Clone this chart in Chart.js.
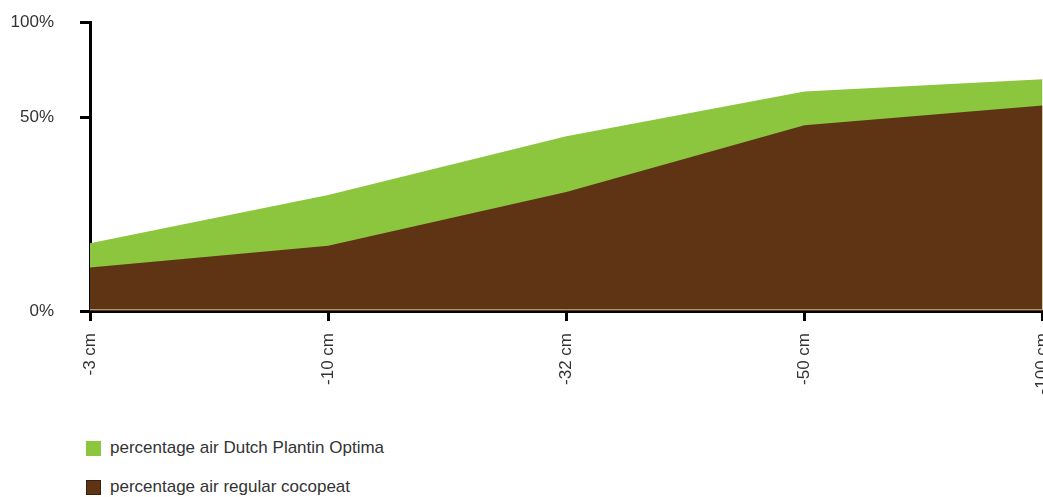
<!DOCTYPE html>
<html>
<head>
<meta charset="utf-8">
<script src="https://cdn.jsdelivr.net/npm/chart.js@4.4.1/dist/chart.umd.min.js"></script>
<style>
  html, body { margin: 0; padding: 0; background: #fff; overflow: hidden; }
  #wrap { width: 1043px; height: 497px; overflow: hidden; position: relative; }
  #chartBox { width: 1075px; height: 434px; position: relative; margin-top: -14px; }
  #legend { position: absolute; left: 86px; top: 437px; font-family: "Liberation Sans", Arial, sans-serif; font-size: 17px; color: #333; }
  .legend-row { display: flex; align-items: center; height: 22px; margin-bottom: 17px; }
  .legend-box { width: 15px; height: 15px; margin-right: 9px; box-sizing: border-box; }
</style>
</head>
<body>
<div id="wrap">
  <div id="chartBox"><canvas id="airChart"></canvas></div>
  <div id="legend"></div>
</div>
<script>
const depthLabels = ["-3 cm", "-10 cm", "-32 cm", "-50 cm", "-100 cm"];
const dutchPlantinAir = [17.5, 29.9, 45.1, 56.6, 59.8];
const regularCocopeatAir = [11.2, 16.8, 30.7, 47.9, 53.0];

// the reference axis puts "100%" well below a true 100 mark; keep that look
const axisTop = 74.5;
const yTicks = [0, 50, axisTop];

const seriesInfo = [
  { label: "percentage air Dutch Plantin Optima", data: dutchPlantinAir, color: "#8cc63f", edge: "#8cc63f", order: 2 },
  { label: "percentage air regular cocopeat", data: regularCocopeatAir, color: "#5e3415", edge: "#3b1f0a", order: 1 }
];

const fontFamily = '"Liberation Sans", Arial, sans-serif';

function renderLegend() {
  const legend = document.querySelector("#legend");
  legend.innerHTML = seriesInfo.map(s => `
    <div class="legend-row">
      <div class="legend-box" style="background:${s.color};border:1px solid ${s.edge}"></div>
      <span>${s.label}</span>
    </div>
  `).join("");
}

// thin tan rule along the bottom of the filled areas
const baseRule = {
  id: "baseRule",
  afterDatasetsDraw(chart) {
    const { ctx, chartArea, scales } = chart;
    const y = scales.y.getPixelForValue(0) - 2;
    ctx.save();
    ctx.strokeStyle = "#a59c70";
    ctx.lineWidth = 1;
    ctx.beginPath();
    ctx.moveTo(chartArea.left, y + 0.5);
    ctx.lineTo(chartArea.right, y + 0.5);
    ctx.stroke();
    ctx.restore();
  }
};

function renderChart() {
  new Chart(document.querySelector("#airChart"), {
    type: "line",
    data: {
      labels: depthLabels,
      datasets: seriesInfo.map(s => ({
        label: s.label,
        data: s.data,
        backgroundColor: s.color,
        borderColor: s.color,
        borderWidth: 0,
        pointRadius: 0,
        tension: 0,
        fill: "origin",
        order: s.order
      }))
    },
    options: {
      responsive: true,
      maintainAspectRatio: false,
      animation: false,
      layout: { padding: { top: 11, right: 0, left: 0, bottom: 0 } },
      plugins: {
        legend: { display: false },
        tooltip: { enabled: false }
      },
      scales: {
        x: {
          offset: false,
          grid: {
            drawOnChartArea: false,
            drawTicks: true,
            tickLength: 10,
            tickColor: "#000",
            tickWidth: 3
          },
          border: { display: true, color: "#000", width: 3 },
          ticks: {
            color: "#333",
            minRotation: 90,
            maxRotation: 90,
            padding: 12,
            font: { family: fontFamily, size: 17 }
          },
          afterFit: scale => { scale.height = 109; }
        },
        y: {
          min: 0,
          max: axisTop,
          afterBuildTicks: scale => {
            scale.ticks = yTicks.map(v => ({ value: v }));
          },
          grid: {
            drawOnChartArea: false,
            drawTicks: true,
            tickLength: 10,
            tickColor: "#000",
            tickWidth: 3
          },
          border: { display: true, color: "#000", width: 3 },
          ticks: {
            color: "#333",
            padding: 26,
            font: { family: fontFamily, size: 17 },
            callback: value => value === axisTop ? "100%" : value + "%"
          },
          afterFit: scale => { scale.width = 90; }
        }
      }
    },
    plugins: [baseRule]
  });
}

renderLegend();
renderChart();
</script>
</body>
</html>
